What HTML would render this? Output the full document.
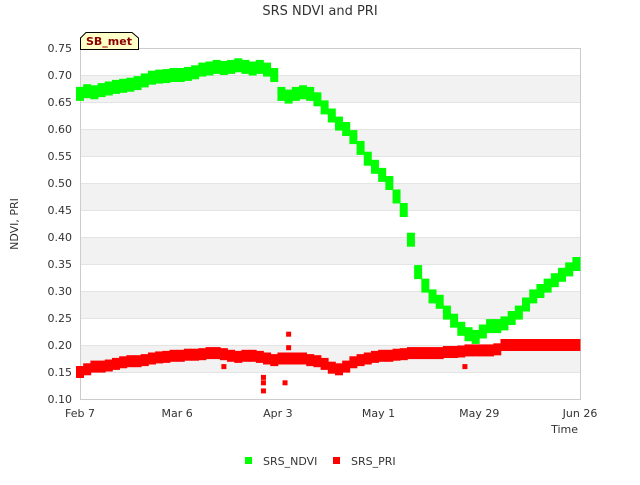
<!DOCTYPE html>
<html><head><meta charset="utf-8"><style>
body{margin:0;background:#fff;font-family:"Liberation Sans","DejaVu Sans",sans-serif}
svg text{font-family:"DejaVu Sans","Liberation Sans",sans-serif}
</style></head><body>
<svg id="chart" width="640" height="480" xmlns="http://www.w3.org/2000/svg">
<rect width="640" height="480" fill="#fff"/>
<text x="320" y="15" text-anchor="middle" font-size="13" fill="#333">SRS NDVI and PRI</text>
<g id="bands"></g><g id="yticks"></g><g id="xticks"></g>
<rect x="80.5" y="48.5" width="500" height="351" fill="none" stroke="#ccc"/>
<g id="marks"></g>
<g>
<path d="M80.5,49.5 V38 L86,32.5 H132 L138.5,38 V49.5 Z" fill="#ffffc8" stroke="#000"/>
<text x="109" y="45" text-anchor="middle" font-size="11" font-weight="bold" fill="#8b0000">SB_met</text>
</g>
<text x="18" y="224" text-anchor="middle" font-size="11" fill="#333" transform="rotate(-90 18 224)">NDVI, PRI</text>
<text x="578" y="433" text-anchor="end" font-size="11" fill="#333">Time</text>
<g><rect x="245" y="457" width="7" height="7" fill="#00ff00"/><text x="263" y="465" font-size="11" fill="#333">SRS_NDVI</text></g>
<g><rect x="333" y="457" width="7" height="7" fill="#ff0000"/><text x="351" y="465" font-size="11" fill="#333">SRS_PRI</text></g>
</svg>
<script>
const days=[];for(let d=0;d<=138;d+=2)days.push(d);
const ndvi=[0.665,0.67,0.668,0.672,0.675,0.678,0.68,0.682,0.685,0.69,0.695,0.697,0.698,0.70,0.70,0.702,0.705,0.71,0.712,0.715,0.713,0.715,0.718,0.715,0.712,0.715,0.71,0.70,0.665,0.66,0.665,0.668,0.665,0.655,0.64,0.625,0.61,0.60,0.585,0.565,0.545,0.53,0.515,0.50,0.475,0.45,0.395,0.335,0.31,0.29,0.28,0.26,0.245,0.23,0.22,0.215,0.225,0.235,0.235,0.24,0.25,0.26,0.275,0.29,0.30,0.31,0.32,0.33,0.34,0.35];
const pri=[0.15,0.155,0.16,0.16,0.162,0.165,0.168,0.17,0.17,0.172,0.175,0.177,0.178,0.18,0.18,0.182,0.182,0.183,0.185,0.185,0.183,0.18,0.178,0.18,0.18,0.178,0.175,0.172,0.175,0.175,0.175,0.175,0.172,0.17,0.165,0.158,0.155,0.16,0.168,0.172,0.175,0.178,0.18,0.18,0.182,0.183,0.185,0.185,0.185,0.185,0.185,0.187,0.187,0.188,0.19,0.19,0.19,0.19,0.192,0.2,0.2,0.2,0.2,0.2,0.2,0.2,0.2,0.2,0.2,0.2];
const outDays=[51,51,51,57,58,58,40,107];
const outVals=[0.115,0.13,0.14,0.13,0.22,0.195,0.16,0.16];
const yTicks=[0.10,0.15,0.20,0.25,0.30,0.35,0.40,0.45,0.50,0.55,0.60,0.65,0.70,0.75];
const xTickDays=[0,27,55,83,111,139];
const xTickLabels=["Feb 7","Mar 6","Apr 3","May 1","May 29","Jun 26"];
const NS="http://www.w3.org/2000/svg";
const X=d=>80+d*500/139, Y=v=>399-(v-0.10)*351/0.65;
function mk(t,a,p){const e=document.createElementNS(NS,t);for(const k in a)e.setAttribute(k,a[k]);document.getElementById(p).appendChild(e);return e;}
for(let i=0;i<yTicks.length-1;i++){
  const r=mk('rect',{x:80,y:Y(yTicks[i+1]),width:500,height:Y(yTicks[i])-Y(yTicks[i+1]),fill:(i%2==1)?'#f2f2f2':'#fff'},'bands');
  
  
}
yTicks.forEach(v=>{
  const l=mk('line',{x1:80,x2:580,y1:Y(v)+0.5,y2:Y(v)+0.5,stroke:'#e4e4e4'},'yticks');
  
  
  const t=mk('text',{x:72,y:Y(v)+4,'text-anchor':'end','font-size':11,fill:'#333'},'yticks');t.textContent=v.toFixed(2);
  
  
});
xTickDays.forEach((d,i)=>{
  const t=mk('text',{x:X(d),y:417,'text-anchor':'middle','font-size':11,fill:'#333'},'xticks');t.textContent=xTickLabels[i];
  
  
});
function pt(d,v,c,n,h){const r=mk('rect',{x:X(d)-4,y:Y(v)-h/2,width:8,height:h,fill:c},'marks');
  
  }
days.forEach((d,i)=>{pt(d,ndvi[i],'#00ff00','ndvi-point',14);});
days.forEach((d,i)=>{pt(d,pri[i],'#ff0000','pri-point',12);});
outDays.forEach((d,i)=>{const r=mk('rect',{x:X(d)-2.5,y:Y(outVals[i])-2.5,width:5,height:5,fill:'#ff0000'},'marks');
  
  });
</script>
</body></html>
